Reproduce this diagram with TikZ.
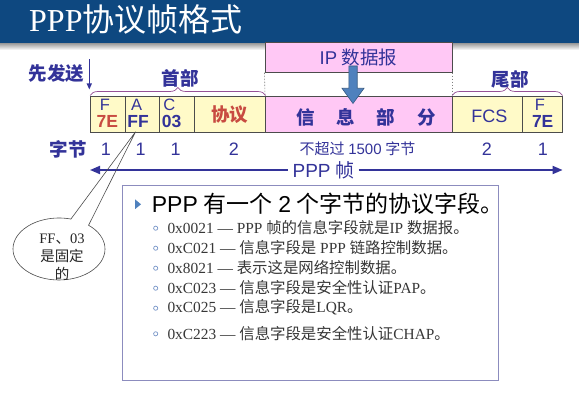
\documentclass[tikz,border=0pt]{standalone}
\usepackage{fontspec}
\setmainfont{Liberation Serif}
\newfontfamily\cjk{Noto Sans CJK SC}
\newfontfamily\sans{Liberation Sans}
\usetikzlibrary{arrows.meta,decorations.pathreplacing,calc}

\definecolor{titlebar}{RGB}{14,72,128}
\definecolor{navy}{RGB}{51,51,153}
\definecolor{fieldyellow}{RGB}{255,250,200}
\definecolor{fieldpink}{RGB}{255,200,245}
\definecolor{redtext}{RGB}{200,75,65}
\definecolor{bluearrow}{RGB}{79,129,189}
\definecolor{boxline}{RGB}{140,140,190}
\definecolor{itemtext}{RGB}{55,55,55}
\definecolor{bracecol}{RGB}{150,80,150}
\definecolor{bulletcol}{RGB}{120,150,200}

\newcommand{\zh}[1]{{\cjk #1}}

\begin{document}
\begin{tikzpicture}[x=1pt,y=-1pt,
  field/.style={draw=gray!60!black, line width=0.6pt, minimum height=35.7,
    inner sep=0, anchor=north west},
  yfield/.style={field, fill=fieldyellow},
  pfield/.style={field, fill=fieldpink},
  lbl/.style={inner sep=0, text=navy},
  cjklbl/.style={lbl, font=\cjk\bfseries\fontsize{18.5}{20}\selectfont},
  numlbl/.style={lbl, font=\sans\fontsize{18}{20}\selectfont},
  letter/.style={lbl, font=\sans\fontsize{16.5}{16}\selectfont},
  code/.style={lbl, font=\sans\bfseries\fontsize{17.5}{17}\selectfont},
  bracestyle/.style={draw=bracecol, line width=0.7pt, decorate,
    decoration={brace, amplitude=8}},
  item/.style={inner sep=0, anchor=west, text=itemtext,
    font=\fontsize{15.4}{16}\selectfont},
  itembullet/.style={circle, draw=bulletcol, line width=0.7pt, inner sep=0,
    minimum size=4.2},
  framearrow/.style={draw=navy, line width=1.8pt}
]
\useasboundingbox (0,0) rectangle (579,406);
\fill[white] (0,0) rectangle (579,406);

% title bar
\fill[titlebar] (0,0) rectangle (579,44);
\shade[top color=black!35, bottom color=white] (0,44) rectangle (579,50);
\node[anchor=base west, inner sep=0, text=white, font=\fontsize{32}{32}\selectfont]
  (title) at (29,31.5) {PPP\zh{协议帧格式}};

% frame fields
\node[yfield, minimum width=34.5] (fF) at (90,96) {};
\node[yfield, minimum width=34.5] (fA) at (124.5,96) {};
\node[yfield, minimum width=35]   (fC) at (159,96) {};
\node[yfield, minimum width=71]   (fP) at (194,96) {};
\node[pfield, minimum width=187]  (fI) at (265,96) {};
\node[yfield, minimum width=70]   (fS) at (452,96) {};
\node[yfield, minimum width=40]   (fE) at (522,96) {};

% field contents
\node[letter] (tF) at (105,105) {F};
\node[code, text=redtext] (vF) at (107.3,121.7) {7E};
\node[letter] (tA) at (136.7,105) {A};
\node[code] (vA) at (138,121.7) {FF};
\node[letter] (tC) at (169.3,105) {C};
\node[code] (vC) at (171.7,121.7) {03};
\node[cjklbl, text=redtext] (proto) at (229.5,115) {协议};
\node[cjklbl] (infotxt) at (366,117.3) {信\hspace{22pt}息\hspace{22pt}部\hspace{22pt}分};
\node[lbl, font=\sans\fontsize{18}{20}\selectfont] (fcs) at (489.3,116) {FCS};
\node[letter] (tE) at (540,105) {F};
\node[code] (vE) at (542.7,121.7) {7E};

% IP datagram carried in the information field
\node[draw=gray!60!black, line width=0.6pt, fill=fieldpink, minimum width=187.5,
  minimum height=29.5, anchor=north west, inner sep=0, text=navy,
  font=\fontsize{18.5}{20}\selectfont] (ipbox) at (264.5,42.5)
  {{\sans IP} \zh{数据报}};
\draw[gray, line width=0.6pt, dash pattern=on 1.5pt off 1.5pt]
  (ipbox.south west) -- (fI.north west);
\draw[gray, line width=0.6pt, dash pattern=on 1.5pt off 1.5pt]
  (ipbox.south east) -- (fI.north east);
\filldraw[fill=bluearrow, draw=bluearrow!70!black, line width=0.6pt]
  (348.8,66) -- (357.2,66) -- (357.2,88.3) -- (364,88.3) -- (353,103.5)
  -- (342,88.3) -- (348.8,88.3) -- cycle;

% header / trailer braces
\draw[bracestyle] (fF.north west) ++(0,-0.5) -- ($(fP.north east)+(0,-0.5)$);
\draw[bracestyle] (fS.north west) ++(0,-0.5) -- ($(fE.north east)+(0,-0.5)$);
\node[cjklbl] (head) at (180,78.5) {首部};
\node[cjklbl] (tail) at (510,79.3) {尾部};

% first-sent marker
\node[cjklbl] (send) at (56.5,73.3) {先发送};
\coordinate (sendtop) at (89.3,59.5);
\draw[navy, line width=1.1pt, -{Triangle[length=6,width=5]}] (sendtop) -- ++(0,30);

% byte counts
\node[cjklbl] (bytes) at (68,149.3) {字节};
\node[numlbl] (nF) at (106,149.5) {1};
\node[numlbl] (nA) at (140.7,149.5) {1};
\node[numlbl] (nC) at (175.7,149.5) {1};
\node[numlbl] (nP) at (234,149.5) {2};
\node[lbl, font=\fontsize{15}{16}\selectfont] (nI) at (357.5,148.3)
  {\zh{不超过} {\sans 1500} \zh{字节}};
\node[numlbl] (nS) at (487,149.5) {2};
\node[numlbl] (nE) at (543,149.5) {1};

% whole frame span
\node[lbl, inner xsep=4, font=\fontsize{19}{20}\selectfont] (ppp) at (323.5,170)
  {{\sans PPP} \zh{帧}};
\draw[framearrow, {Triangle[length=10,width=8]}-] (fF.west |- ppp) -- (ppp.west);
\draw[framearrow, -{Triangle[length=10,width=8]}] (ppp.east) -- (fE.east |- ppp);

% callout for the fixed address/control values
\coordinate (E) at (59,249);
\coordinate (tip) at ($(fA.south)+(-6.5,-0.5)$);
\draw[black!70, line width=0.6pt] (tip) -- ($(E)+(-50:46 and 31)$)
  arc[start angle=-50, end angle=285, x radius=46, y radius=31] -- cycle;
\node[inner sep=0, align=center, text=black!85, font=\fontsize{14.5}{18.3}\selectfont]
  (note) at (62,257) {FF\zh{、}03\\\zh{是固定}\\\zh{的}};

% protocol field values
\node[draw=boxline, line width=0.8pt, minimum width=375.4, minimum height=195,
  anchor=north west, inner sep=0] (notes) at (122.3,185) {};
\fill[bluearrow] (135.2,199.5) -- (141,204.3) -- (135.2,209) -- cycle;
\node[inner sep=0, anchor=west, text=black, font=\fontsize{23}{24}\selectfont]
  (lead) at (151.7,204) {{\sans PPP} \zh{有一个} {\sans 2} \zh{个字节的协议字段。}};

\node[itembullet] (b1) at (155.7,228.2) {};
\node[item] (i1) at (167.3,227.7) {0x0021 — PPP \zh{帧的信息字段就是}IP \zh{数据报。}};
\node[itembullet] (b2) at (155.7,248.2) {};
\node[item] (i2) at (167.3,247.7) {0xC021 — \zh{信息字段是} PPP \zh{链路控制数据。}};
\node[itembullet] (b3) at (155.7,268.2) {};
\node[item] (i3) at (167.3,267.7) {0x8021 — \zh{表示这是网络控制数据。}};
\node[itembullet] (b4) at (155.7,288.2) {};
\node[item] (i4) at (167.3,287.7) {0xC023 — \zh{信息字段是安全性认证}PAP\zh{。}};
\node[itembullet] (b5) at (155.7,308.2) {};
\node[item] (i5) at (167.3,307.7) {0xC025 — \zh{信息字段是}LQR\zh{。}};
\node[itembullet] (b6) at (155.7,333.8) {};
\node[item] (i6) at (167.3,333.3) {0xC223 — \zh{信息字段是安全性认证}CHAP\zh{。}};
\end{tikzpicture}
\end{document}
